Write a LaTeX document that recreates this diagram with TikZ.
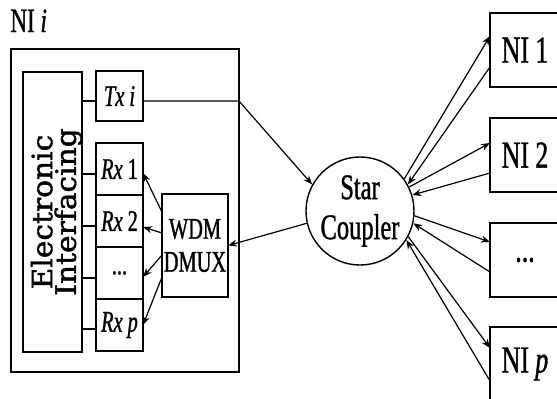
\documentclass[tikz,border=0pt]{standalone}
\usepackage{fontspec}
\setmainfont{Liberation Serif}[FakeStretch=0.68, FakeBold=1]
\newfontfamily\eifont{DejaVu Serif}[FakeStretch=1.06, FakeBold=1.5]
\usetikzlibrary{positioning,arrows.meta}
\tikzset{
  blk/.style={rectangle, draw, line width=0.7pt, inner sep=0pt, outer sep=0pt,
              align=center, font=\fontsize{15}{16.5}\selectfont},
  rxbox/.style={blk, minimum width=23.5pt, minimum height=26pt},
  nibox/.style={blk, minimum width=35pt, minimum height=37pt, font=\fontsize{19}{21}\selectfont},
  link/.style={-{Stealth[length=4.5pt,width=3.5pt]}, line width=0.6pt},
  wire/.style={line width=0.7pt}
}
\begin{document}
\begin{tikzpicture}[x=0.5pt, y=-0.5pt]
\useasboundingbox (0,0) rectangle (557,398);
\clip (0,0) rectangle (557,398);
% node interface i
\node[blk, minimum width=114pt, minimum height=161.5pt] (ni) at (125,210.5) {};
\node[anchor=base west, inner sep=0pt, font=\fontsize{17}{18}\selectfont] (nilbl) at (10,32) {NI\,\textit{i}};
\node[blk, minimum width=29.5pt, minimum height=140pt] (ei) at (52.5,212) {};
\node[rotate=90, align=center, inner sep=0pt, font=\eifont\fontsize{14}{10}\selectfont] (eitxt)
     at ([xshift=2pt]ei.center) {Electronic\\Interfacing};
\node[rxbox, minimum height=25pt] (tx) at (119.5,96) {\textit{Tx\,i}};
\node[rxbox] (rx1) at (119.5,169) {\textit{Rx}\,1};
\node[rxbox, below=0pt of rx1] (rx2) {\textit{Rx}\,2};
\node[rxbox, below=0pt of rx2] (rxd) {...};
\node[rxbox, below=0pt of rxd] (rxp) {\textit{Rx\,p}};
\node[blk, minimum width=33pt, minimum height=51.5pt] (dmux) at (195,245.5) {WDM\\DMUX};
% coupler and the other interfaces
\node[circle, draw, line width=0.7pt, minimum size=54pt, inner sep=0pt, align=center,
      font=\fontsize{18}{20}\selectfont] (star) at (360,211) {Star\\Coupler};
\node[nibox] (ni1) at (525,50) {NI\,1};
\node[nibox] (ni2) at (525,155) {NI\,2};
\node[nibox] (nid) at (525,260) {...};
\node[nibox] (nip) at (525,364) {NI\,\textit{p}};
% wiring
\draw[wire] ([yshift=-2.5pt]tx.west) -- ([yshift=-2.5pt]tx.west -| ei.east);
\draw[wire] ([yshift=-2.5pt]rx1.west) -- ([yshift=-2.5pt]rx1.west -| ei.east);
\draw[wire] ([yshift=-2.5pt]rx2.west) -- ([yshift=-2.5pt]rx2.west -| ei.east);
\draw[wire] ([yshift=-2.5pt]rxd.west) -- ([yshift=-2.5pt]rxd.west -| ei.east);
\draw[wire] ([yshift=-2pt]rxp.west) -- ([yshift=-2pt]rxp.west -| ei.east);
\draw[link] ([yshift=-2.5pt]tx.east) -- ([yshift=-2.5pt]tx.east -| ni.east) -- (star.151);
\draw[link] (star.193) -- (dmux.east);
\draw[link] ([yshift=16.75pt]dmux.west) -- ([yshift=-2pt]rx1.east);
\draw[link] ([yshift=6.25pt]dmux.west) -- ([yshift=-3pt]rx2.east);
\draw[link] ([yshift=-4.75pt]dmux.west) -- ([yshift=-2pt]rxd.east);
\draw[link] ([yshift=-15.75pt]dmux.west) -- (rxp.east);
\draw[link] (star.36) -- ([yshift=7pt]ni1.west); \draw[link] ([yshift=-8.5pt]ni1.west) -- (star.29);
\draw[link] (star.26) -- ([yshift=6pt]ni2.west); \draw[link] ([yshift=-9pt]ni2.west) -- (star.17);
\draw[link] (star.-5) -- ([yshift=9pt]nid.west); \draw[link] ([yshift=-6pt]nid.west) -- (star.-13);
\draw[link] (star.-28) -- ([yshift=8pt]nip.west); \draw[link] ([yshift=-8.5pt]nip.west) -- (star.-32);
\end{tikzpicture}
\end{document}
